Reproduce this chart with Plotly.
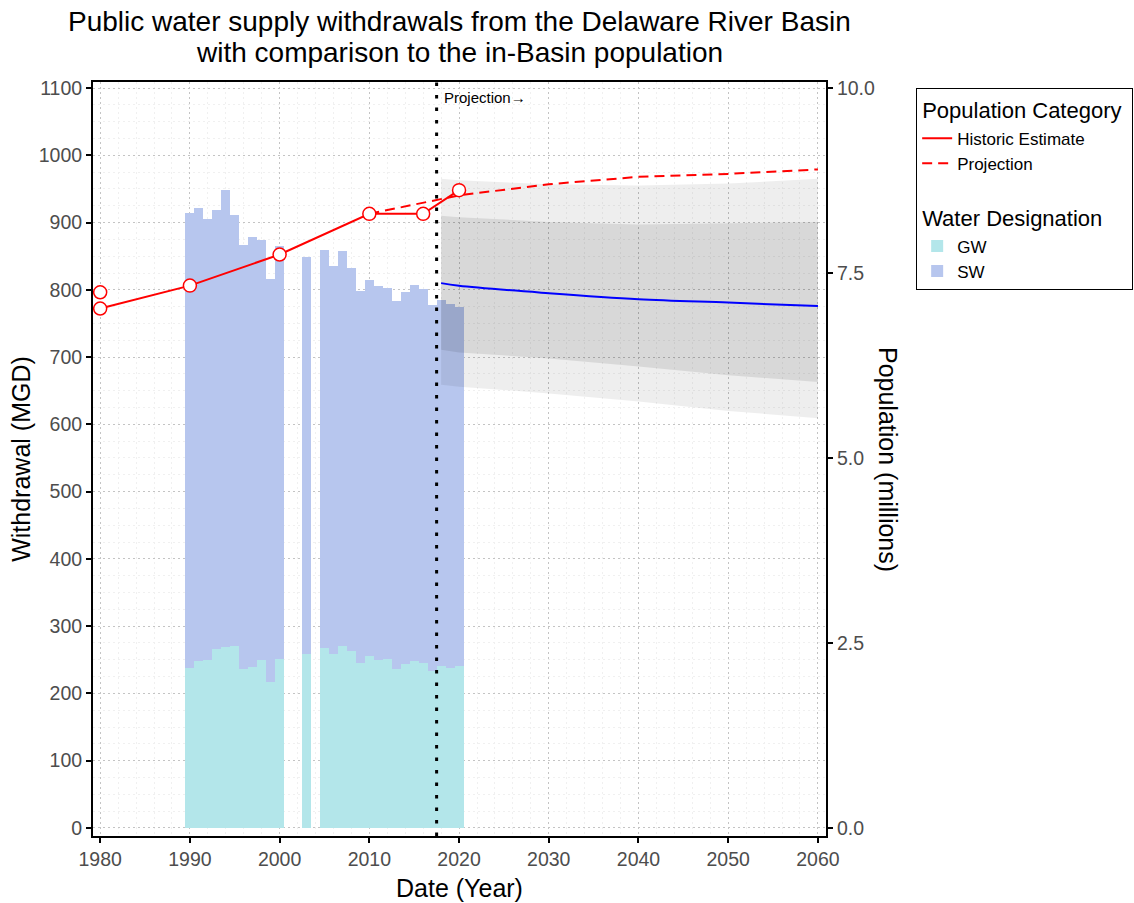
import plotly.graph_objects as go

# ---------------- data ----------------
bar_years = [1990, 1991, 1992, 1993, 1994, 1995, 1996, 1997, 1998, 1999, 2000,
             2003,
             2005, 2006, 2007, 2008, 2009, 2010, 2011, 2012, 2013, 2014, 2015,
             2016, 2017, 2018, 2019, 2020]
gw_mgd = [238, 248, 250, 266, 269, 271, 236, 239, 249, 217, 251,
          259,
          267, 258, 271, 263, 245, 256, 249, 251, 237, 243, 248,
          245, 233, 241, 238, 241]
sw_mgd = [676, 673, 656, 652, 680, 640, 631, 639, 625, 599, 614,
          590,
          592, 577, 587, 569, 553, 559, 557, 552, 547, 554, 559,
          556, 545, 544, 541, 533]

pop_hist_years = [1980, 1990, 2000, 2010, 2016, 2020]
pop_hist = [7.02, 7.33, 7.75, 8.30, 8.30, 8.62]
pop_extra_years = [1980]
pop_extra = [7.24]

pop_proj_years = [2010, 2020, 2030, 2040, 2050, 2060]
pop_proj = [8.30, 8.55, 8.70, 8.80, 8.84, 8.90]

wd_proj_years = [2018, 2020, 2030, 2040, 2050, 2060]
wd_proj_mid = [810, 806, 795, 786, 781, 776]
wd_inner_lo = [711, 707, 698, 686, 673, 663]
wd_inner_hi = [910, 908, 901, 897, 899, 901]
wd_outer_lo = [659, 656, 646, 634, 620, 609]
wd_outer_hi = [965, 963, 957, 955, 958, 965]

projection_start = 2017.5

title_lines = ["Public water supply withdrawals from the Delaware River Basin",
               "with comparison to the in-Basin population"]

x_ticks = [1980, 1990, 2000, 2010, 2020, 2030, 2040, 2050, 2060]
y_ticks = [0, 100, 200, 300, 400, 500, 600, 700, 800, 900, 1000, 1100]
y2_ticks = [0.0, 2.5, 5.0, 7.5, 10.0]

# scale: 10 million people <-> 1100 MGD
Y_MIN, Y_MAX = -12, 1109
SCALE = 110.0

FONT = "Arial, Liberation Sans, sans-serif"
GW_COLOR = "#B3E6EA"
SW_COLOR = "#B7C6EE"

fig = go.Figure()

# bars
fig.add_trace(go.Bar(x=bar_years, y=gw_mgd, name="GW", marker_color=GW_COLOR,
                     marker_line_width=0, width=1.0,
                     legendgroup="water", legendgrouptitle_text="Water Designation",
                     legendrank=3))
fig.add_trace(go.Bar(x=bar_years, y=sw_mgd, name="SW", marker_color=SW_COLOR,
                     marker_line_width=0, width=1.0,
                     legendgroup="water", legendrank=4))

# projection bands (outer then inner)
fig.add_trace(go.Scatter(x=wd_proj_years + wd_proj_years[::-1],
                         y=wd_outer_hi + wd_outer_lo[::-1],
                         fill="toself", fillcolor="rgba(0,0,0,0.068)",
                         line=dict(width=0), mode="lines", showlegend=False,
                         hoverinfo="skip"))
fig.add_trace(go.Scatter(x=wd_proj_years + wd_proj_years[::-1],
                         y=wd_inner_hi + wd_inner_lo[::-1],
                         fill="toself", fillcolor="rgba(0,0,0,0.09)",
                         line=dict(width=0), mode="lines", showlegend=False,
                         hoverinfo="skip"))
fig.add_trace(go.Scatter(x=wd_proj_years, y=wd_proj_mid, mode="lines",
                         line=dict(color="#0000FF", width=2, shape="spline"),
                         showlegend=False))

# population (secondary axis)
fig.add_trace(go.Scatter(x=pop_proj_years, y=pop_proj, yaxis="y2", mode="lines",
                         name="Projection",
                         line=dict(color="#FF0000", width=2, dash="10px,6px"),
                         legendgroup="pop", legendrank=2))
fig.add_trace(go.Scatter(x=pop_hist_years, y=pop_hist, yaxis="y2", mode="lines",
                         name="Historic Estimate",
                         line=dict(color="#FF0000", width=2),
                         legendgroup="pop", legendgrouptitle_text="Population Category",
                         legendrank=1))
fig.add_trace(go.Scatter(x=pop_hist_years + pop_extra_years, y=pop_hist + pop_extra,
                         yaxis="y2", mode="markers", showlegend=False,
                         marker=dict(size=13, color="white",
                                     line=dict(color="#FF0000", width=1.5))))

fig.add_shape(type="line", xref="x", yref="paper", x0=projection_start, x1=projection_start,
              y0=0, y1=1, line=dict(color="black", width=3, dash="3.5px,9px"))

fig.add_annotation(x=projection_start + 0.6, y=1086, xref="x", yref="y",
                   text="Projection\u2192", showarrow=False, xanchor="left",
                   font=dict(family=FONT, size=15, color="black"))

# title lines (as annotations for reliable placement)
fig.add_annotation(x=0.5, y=1.0796, xref="paper", yref="paper", xanchor="center",
                   yanchor="middle", showarrow=False, text=title_lines[0],
                   font=dict(family=FONT, size=28, color="black"))
fig.add_annotation(x=0.5, y=1.0385, xref="paper", yref="paper", xanchor="center",
                   yanchor="middle", showarrow=False, text=title_lines[1],
                   font=dict(family=FONT, size=28, color="black"))

fig.add_annotation(x=1.0846, y=0.5, xref="paper", yref="paper", xanchor="center",
                   yanchor="middle",
                   text="Population (millions)", showarrow=False, textangle=90,
                   font=dict(family=FONT, size=25, color="black"))

axis_common = dict(showline=True, linecolor="black", linewidth=2, ticks="outside",
                   tickcolor="black", ticklen=5, tickwidth=1.5,
                   tickfont=dict(family=FONT, size=19.5, color="#4D4D4D"),
                   zeroline=False, automargin=False)

fig.update_layout(
    width=1134, height=903,
    margin=dict(l=93, r=308, t=82, b=67, autoexpand=False),
    paper_bgcolor="white", plot_bgcolor="white",
    barmode="stack", bargap=0,
    font=dict(family=FONT, color="black"),
    xaxis=dict(range=[1979.2, 2060.9], tickvals=x_ticks, mirror=True,
               showgrid=True, gridcolor="#C4C4C4", griddash="1.5px,3.5px", gridwidth=1.2,
               minor=dict(dtick=2, tick0=1980, showgrid=True, gridcolor="#F0F0F0", gridwidth=1),
               title=dict(text="Date (Year)", font=dict(family=FONT, size=25, color="black"),
                          standoff=10),
               **axis_common),
    yaxis=dict(range=[Y_MIN, Y_MAX], tickvals=y_ticks,
               showgrid=True, gridcolor="#C4C4C4", griddash="1.5px,3.5px", gridwidth=1.2,
               minor=dict(dtick=25, tick0=0, showgrid=True, gridcolor="#F0F0F0", gridwidth=1),
               title=dict(text="Withdrawal (MGD)", font=dict(family=FONT, size=25, color="black"),
                          standoff=1),
               **axis_common),
    yaxis2=dict(range=[Y_MIN / SCALE, Y_MAX / SCALE], overlaying="y", side="right",
                tickvals=y2_ticks, tickformat=".1f", showgrid=False,
                **axis_common),
    legend=dict(x=1.123, y=0.992, xanchor="left", yanchor="top",
                bordercolor="black", borderwidth=1, bgcolor="white",
                font=dict(family=FONT, size=17, color="black"),
                grouptitlefont=dict(family=FONT, size=22, color="black"),
                tracegroupgap=26, itemwidth=30, traceorder="grouped"),
)

fig.write_html("out.html", config={"displayModeBar": False},
               post_script="document.body.style.margin='0px';document.body.style.padding='0px';")
